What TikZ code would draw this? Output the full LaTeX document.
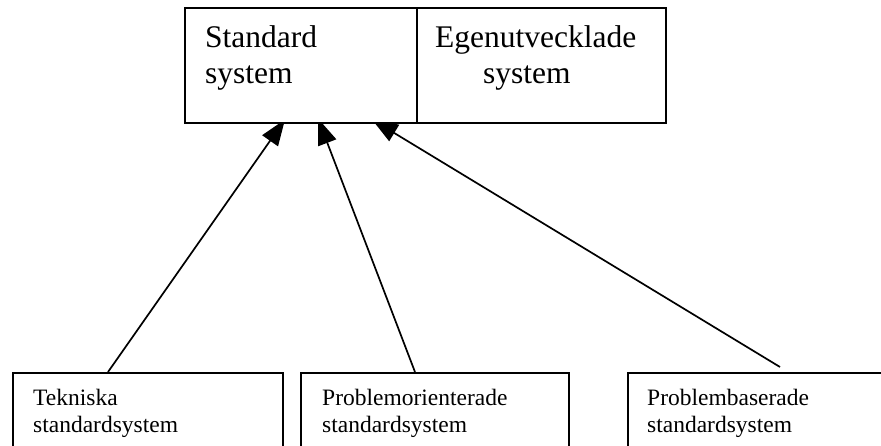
\documentclass[tikz,border=0pt]{standalone}
\usepackage{fontspec}
\setmainfont{Liberation Serif}
\usetikzlibrary{arrows.meta,calc,backgrounds}
\tikzset{
  cell/.style={draw=black, line width=1.5pt, fill=white, rectangle, inner sep=0pt, anchor=north west},
  bigtext/.style={anchor=base west, inner sep=0pt, font=\fontsize{31.5}{36}\selectfont},
  smalltext/.style={anchor=base west, inner sep=0pt, font=\fontsize{23.5}{27}\selectfont},
  link/.style={line width=1.7pt, -{Triangle[length=26pt,width=19pt]}}
}
\begin{document}
\begin{tikzpicture}[x=1pt,y=-1pt]
\path[use as bounding box] (0,0) rectangle (881,445);
\clip (0,0) rectangle (881,445);

% upper pair of cells
\node[cell, minimum width=232pt, minimum height=115pt] (std) at (184,7) {};
\node[cell, minimum width=249pt, minimum height=115pt] (egen) at (416,7) {};
\node[bigtext] (stdA) at (205,47) {Standard};
\node[bigtext] (stdB) at (205,83) {system};
\node[bigtext] (egenA) at (435,47) {Egenutvecklade};
\node[bigtext] (egenB) at (483,83) {system};

% lower row of boxes (running past the lower edge)
\node[cell, minimum width=270pt, minimum height=110pt] (tek) at (12,372) {};
\node[cell, minimum width=268pt, minimum height=110pt] (prob) at (300,372) {};
\node[cell, minimum width=290pt, minimum height=110pt] (bas) at (627,372) {};
\node[smalltext] (tekA) at (33,405) {Tekniska};
\node[smalltext] (tekB) at (33,432) {standardsystem};
\node[smalltext] (probA) at (322,405) {Problemorienterade};
\node[smalltext] (probB) at (322,432) {standardsystem};
\node[smalltext] (basA) at (647,405) {Problembaserade};
\node[smalltext] (basB) at (647,432) {standardsystem};

% arrow ends
\coordinate (tekTop) at ($(tek.north west)+(96,0)$);
\coordinate (probTop) at ($(prob.north west)+(115,0)$);
\coordinate (basTop) at ($(bas.north west)+(153,-5)$);
\coordinate (stdIn1) at ($(std.south west)+(101,-4)$);
\coordinate (stdIn2) at ($(std.south west)+(134,-5)$);
\coordinate (stdIn3) at ($(std.south west)+(188,-4)$);

% arrows tucked under the upper cells
\begin{pgfonlayer}{background}
\draw[link] (tekTop) -- (stdIn1);
\draw[link] (probTop) -- (stdIn2);
\draw[link] (basTop) -- (stdIn3);
\end{pgfonlayer}
\end{tikzpicture}
\end{document}
